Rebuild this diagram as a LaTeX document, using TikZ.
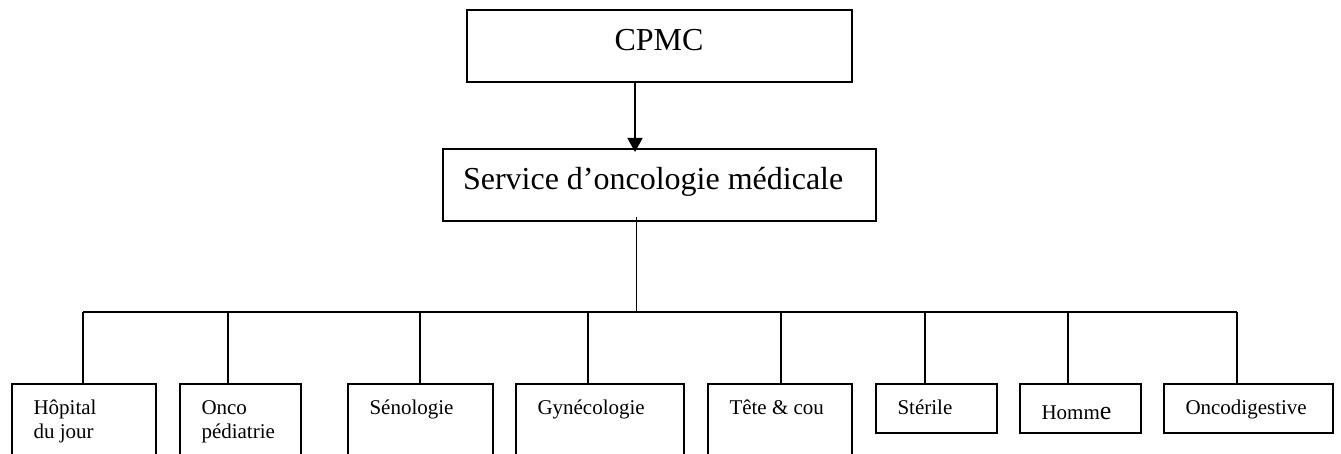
\documentclass[tikz,border=0pt]{standalone}
\usepackage{fontspec}
\setmainfont{Liberation Serif}
\usetikzlibrary{arrows.meta}
\newcommand{\mkbox}[5]{\node[boxnode, minimum width={(#4-#2)*0.5pt}, minimum height={(#5-#3)*0.5pt}] (#1) at ({(#2+#4)/2},{(#3+#5)/2}) {};}
\tikzset{
  boxnode/.style={draw, line width=1pt, inner sep=0pt, outer sep=0pt},
  biglbl/.style={inner sep=0pt, outer sep=0pt, font=\fontsize{16pt}{19pt}\selectfont},
  lbl/.style={inner sep=0pt, outer sep=0pt, anchor=base west, font=\fontsize{10.5pt}{12pt}\selectfont},
  link/.style={line width=1pt},
}
\begin{document}
\begin{tikzpicture}[x=0.5pt, y=-0.5pt]
\path[use as bounding box, clip] (0,0) rectangle (1341,454);
% boxes
\mkbox{cpmc}{467}{10}{852}{82}
\mkbox{svc}{443}{149}{876}{221}
\mkbox{hop}{12}{384}{156}{480}
\mkbox{onco}{180}{384}{301}{480}
\mkbox{seno}{348}{384}{493}{480}
\mkbox{gyn}{516}{384}{684}{480}
\mkbox{tete}{708}{384}{852}{480}
\mkbox{ster}{876}{384}{997}{433}
\mkbox{homme}{1020}{384}{1141}{433}
\mkbox{dig}{1164}{384}{1333}{433}
% texts
\node[biglbl, anchor=base] (tcpmc) at (659,51) {CPMC};
\node[biglbl, anchor=base west] (tsvc) at (463,190) {Service d’oncologie médicale};
\node[lbl] (thop) at (33.5,415) {\begin{tabular}[t]{@{}l@{}}Hôpital\\du jour\end{tabular}};
\node[lbl] (tonco) at (201.5,415) {\begin{tabular}[t]{@{}l@{}}Onco\\pédiatrie\end{tabular}};
\node[lbl] (tseno) at (369.5,415) {Sénologie};
\node[lbl] (tgyn) at (537.5,415) {Gynécologie};
\node[lbl] (ttete) at (729.5,415) {Tête \& cou};
\node[lbl] (tster) at (897.5,415) {Stérile};
\node[lbl] (thomme) at (1041.5,420) {Homm{\fontsize{13pt}{15pt}\selectfont e}};
\node[lbl] (tdig) at (1185.5,415) {Oncodigestive};
% arrow CPMC -> service
\coordinate (ax) at (635,0);
\draw[line width=0.8pt, -{Triangle[length=7pt, width=7.5pt]}, shorten >=-1.5pt] (cpmc.south -| ax) -- (svc.north -| ax);
% trunk
\coordinate (tx) at (636.7,0);
\coordinate (bl) at (83.3,312);
\coordinate (br) at (1236.7,312);
\draw[line width=0.7pt] ([yshift=2pt]svc.south -| tx) -- (bl -| tx);
\draw[link] (bl) -- (br);
% drops
\foreach \n/\x in {hop/83.3, onco/228.3, seno/420, gyn/588.3, tete/780.7, ster/925, homme/1068.3, dig/1236.7}{
  \coordinate (d) at (\x,312);
  \draw[link] (d) -- (d |- \n.north);
}
\end{tikzpicture}
\end{document}
